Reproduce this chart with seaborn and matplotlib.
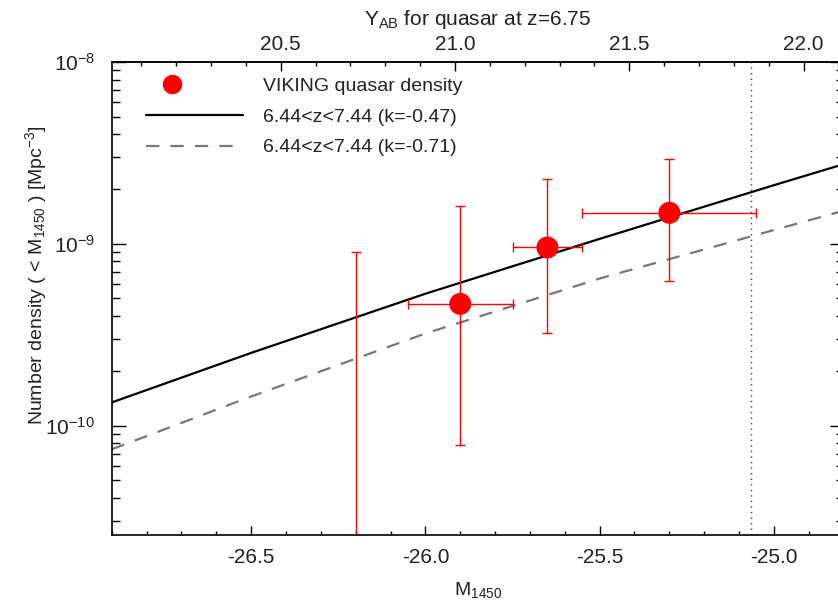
import numpy as np
import pandas as pd
import matplotlib
matplotlib.use("Agg")
import matplotlib.pyplot as plt
from matplotlib.lines import Line2D
from matplotlib.legend_handler import HandlerLine2D
from matplotlib.ticker import MultipleLocator, LogLocator, NullFormatter, FormatStrFormatter
import seaborn as sns

# observed VIKING quasar densities
m_obs = [-25.9, -25.65, -25.3]
m_err = [0.15, 0.10, 0.25]
rho_obs = [4.67e-10, 9.54e-10, 1.48e-9]
rho_hi = [1.61e-9, 2.28e-9, 2.91e-9]
rho_lo = [7.8e-11, 3.22e-10, 6.23e-10]

# upper limit bin (no detection)
m_lim = [-26.2]
rho_lim = [9.0e-10]

# model curves
m_model = [-26.9, -26.5, -26.0, -25.5, -25.0, -24.8]
rho_k047 = [1.34e-10, 2.51e-10, 5.31e-10, 1.064e-9, 2.10e-9, 2.74e-9]
rho_k071 = [7.40e-11, 1.445e-10, 3.21e-10, 6.44e-10, 1.19e-9, 1.52e-9]

# Y_AB = M1450 + offset for a quasar at z=6.75
y_offset = 46.915
y_ab_limit = 21.85

labels = ['VIKING quasar density', '6.44<z<7.44 (k=-0.47)', '6.44<z<7.44 (k=-0.71)']

sns.set_theme(style='white')
plt.rcParams['font.family'] = ['Liberation Sans', 'DejaVu Sans']
plt.rcParams['mathtext.fontset'] = 'custom'
plt.rcParams['mathtext.rm'] = 'Liberation Sans'
plt.rcParams['mathtext.it'] = 'Liberation Sans'
plt.rcParams['mathtext.default'] = 'regular'
txt = '#222222'


class LeftMarkerHandler(HandlerLine2D):
    # IDL-style legend: symbol sits near the left of the handle box
    def get_xdata(self, legend, xdescent, ydescent, width, height, fontsize):
        x = -xdescent + 0.27 * width
        return np.array([x, x]), np.array([x])


fig = plt.figure(figsize=(8.38, 6.07), dpi=100)
ax = fig.add_axes([0.1333, 0.1186, 0.8734, 0.7793])
ax.set_yscale('log')

models = pd.DataFrame({'M': m_model * 2,
                       'rho': rho_k047 + rho_k071,
                       'model': [labels[1]] * len(m_model) + [labels[2]] * len(m_model)})
sns.lineplot(data=models[models.model == labels[1]], x='M', y='rho', ax=ax,
             color='black', lw=1.6, legend=False)
sns.lineplot(data=models[models.model == labels[2]], x='M', y='rho', ax=ax,
             color='#777777', lw=1.6, legend=False)
ax.lines[-1].set_dashes((6, 5))

# vertical magnitude limit
ax.axvline(y_ab_limit - y_offset, color='#444444', lw=1.0, ls=(0, (1, 3)))

# error bars and points
rho_obs_a = np.array(rho_obs)
yerr = [rho_obs_a - np.array(rho_lo), np.array(rho_hi) - rho_obs_a]
ax.errorbar(m_obs, rho_obs, xerr=m_err, yerr=yerr, fmt='none', ecolor='red',
            elinewidth=1.0, capsize=3.5, capthick=1.0, zorder=3)
ax.errorbar(m_lim, rho_lim, yerr=[[rho_lim[0] - 1e-13], [0]], fmt='none',
            ecolor='red', elinewidth=1.0, capsize=3.5, capthick=1.0, zorder=3)
sns.scatterplot(x=m_obs, y=rho_obs, ax=ax, color='red', s=250, edgecolor='none',
                zorder=4, legend=False)

ax.set_xlim(-26.9, -24.8)
ax.set_ylim(2.5e-11, 1e-8)

ax.xaxis.set_major_locator(MultipleLocator(0.5))
ax.xaxis.set_minor_locator(MultipleLocator(0.1))
ax.xaxis.set_major_formatter(FormatStrFormatter('%.1f'))
ax.yaxis.set_major_locator(LogLocator(base=10))
ax.yaxis.set_minor_locator(LogLocator(base=10, subs=np.arange(2, 10)))
ax.yaxis.set_minor_formatter(NullFormatter())

ax.tick_params(axis='x', which='major', direction='in', length=6.5, width=1.0,
               labelsize=15, pad=9, colors='black', labelcolor=txt, bottom=True, top=False)
ax.tick_params(axis='x', which='minor', direction='in', length=3.2, width=1.0,
               bottom=True, top=False, colors='black')
ax.tick_params(axis='y', which='major', direction='in', length=10, width=1.0,
               labelsize=15, pad=12, colors='black', labelcolor=txt, left=True, right=True)
ax.tick_params(axis='y', which='minor', direction='in', length=5.5, width=1.0,
               left=True, right=True, colors='black')

for s in ax.spines.values():
    s.set_visible(True)
    s.set_color('black')
    s.set_linewidth(1.2)

ax.set_xlabel(r'M$_{1450}$', fontsize=14, color=txt, labelpad=10)
ax.set_ylabel(r'Number density ( < M$_{1450}$ ) [Mpc$^{-3}$]', fontsize=14, color=txt)
ax.yaxis.set_label_coords(-0.086, 0.55)

sec = ax.secondary_xaxis('top', functions=(lambda m: m + y_offset, lambda y: y - y_offset))
sec.xaxis.set_major_locator(MultipleLocator(0.5))
sec.xaxis.set_minor_locator(MultipleLocator(0.1))
sec.xaxis.set_major_formatter(FormatStrFormatter('%.1f'))
sec.tick_params(axis='x', which='major', direction='in', length=6.5, width=1.0,
                labelsize=15, pad=6, colors='black', labelcolor=txt)
sec.tick_params(axis='x', which='minor', direction='in', length=3.2, width=1.0, colors='black')
sec.spines['top'].set_linewidth(1.2)
sec.set_xlabel(r'Y$_{\rm AB}$ for quasar at z=6.75', fontsize=15, color=txt, labelpad=7)

handles = [Line2D([], [], ls='none', marker='o', color='red', markersize=14, markeredgewidth=0),
           Line2D([], [], color='black', lw=1.6),
           Line2D([], [], color='#777777', lw=1.6, dashes=(6, 5))]
leg = ax.legend(handles, labels, loc='upper left', bbox_to_anchor=(0.047, 0.968),
                frameon=False, fontsize=14, handlelength=5.0, handletextpad=1.0,
                labelspacing=0.68, borderpad=0, borderaxespad=0,
                handler_map={handles[0]: LeftMarkerHandler(numpoints=1)})
for t in leg.get_texts():
    t.set_color(txt)

fig.savefig('out.png', dpi=100)
